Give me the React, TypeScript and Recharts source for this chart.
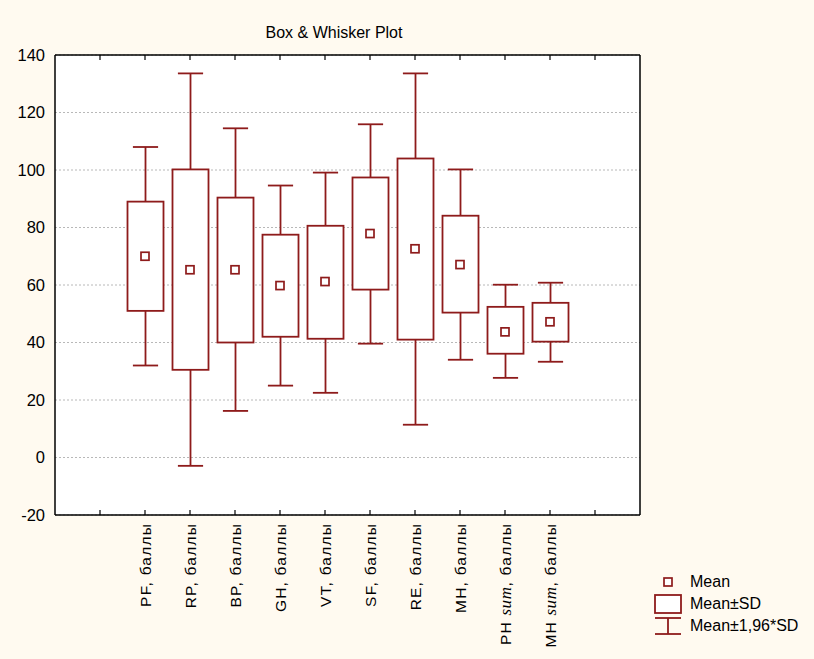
import React from "react";
import {
  ComposedChart,
  Bar,
  Scatter,
  XAxis,
  YAxis,
  CartesianGrid,
} from "recharts";

// categories sit on ticks 2..11; the reference keeps one empty slot at each end
const categories = ["PF", "RP", "BP", "GH", "VT", "SF", "RE", "MH", "PH sum", "MH sum"];
const whiskerLow = [32, -2.9, 16.2, 25, 22.5, 39.6, 11.4, 34, 27.7, 33.3];
const sdLow = [51, 30.5, 40, 42, 41.3, 58.4, 41, 50.4, 36.1, 40.3];
const means = [70, 65.3, 65.3, 59.8, 61.2, 77.9, 72.6, 67.1, 43.7, 47.2];
const sdHigh = [89, 100.2, 90.4, 77.5, 80.6, 97.4, 104, 84.1, 52.4, 53.8];
const whiskerHigh = [108, 133.6, 114.5, 94.6, 99.1, 115.9, 133.6, 100.2, 60.1, 60.8];
const yTicks = [-20, 0, 20, 40, 60, 80, 100, 120, 140];

const RED = "#8E1B1B";
const BG = "#FFFAF0";
const FONT = "'Liberation Sans', Arial, sans-serif";

const data = [
  { key: "pad0" },
  ...categories.map((name, i) => ({
    key: name,
    lo: whiskerLow[i],
    sdLo: sdLow[i],
    mean: means[i],
    sdHi: sdHigh[i],
    hi: whiskerHigh[i],
  })),
  { key: "pad1" },
];

function BoxShape(props: any) {
  const { x, y, width, height, payload } = props;
  if (!payload || payload.lo == null || !isFinite(y)) return <g />;
  const top = Math.min(y, y + height);
  const bottom = Math.max(y, y + height);
  const span = payload.hi - payload.lo;
  const py = (v: number) => bottom - ((v - payload.lo) / span) * (bottom - top);
  const cx = x + width / 2;
  const cap = width * 0.35;
  const boxTop = py(payload.sdHi);
  const boxBottom = py(payload.sdLo);
  return (
    <g stroke={RED} strokeWidth={1.8} fill="none">
      <line x1={cx} x2={cx} y1={top} y2={boxTop} />
      <line x1={cx} x2={cx} y1={boxBottom} y2={bottom} />
      <line x1={cx - cap} x2={cx + cap} y1={top} y2={top} />
      <line x1={cx - cap} x2={cx + cap} y1={bottom} y2={bottom} />
      <rect x={x} y={boxTop} width={width} height={boxBottom - boxTop} fill="#fff" />
    </g>
  );
}

function MeanShape(props: any) {
  const { cx, cy, payload } = props;
  if (!payload || payload.mean == null || !isFinite(cx) || !isFinite(cy)) return <g />;
  return (
    <rect x={cx - 4} y={cy - 4} width={8} height={8} fill="#fff" stroke={RED} strokeWidth={1.7} />
  );
}

function EmptyTick() {
  return <g />;
}

function XTick(props: any) {
  const { x, y, payload } = props;
  const v: string = payload.value;
  if (v.startsWith("pad")) return <g />;
  const isSum = v.endsWith(" sum");
  const base = isSum ? v.replace(" sum", "") : v;
  return (
    <g transform={`translate(${x},${y})`}>
      <text
        transform="rotate(-90)"
        textAnchor="end"
        dy="0.36em"
        fontSize={15.5}
        letterSpacing={1.2}
        fontFamily={FONT}
        fill="#000"
      >
        {isSum ? (
          <>
            {base + " "}
            <tspan
              fontFamily="'Liberation Serif', 'Times New Roman', serif"
              fontStyle="italic"
              fontSize={17}
              letterSpacing={0.6}
            >
              sum
            </tspan>
            {", баллы"}
          </>
        ) : (
          `${base}, баллы`
        )}
      </text>
    </g>
  );
}

function LegendBox() {
  const row = { display: "flex", alignItems: "center", height: 22 } as const;
  const label = { fontSize: 16, fontFamily: FONT, color: "#000", marginLeft: 8 } as const;
  return (
    <div style={{ position: "absolute", left: 654, top: 571, width: 164 }}>
      <div style={row}>
        <svg width={28} height={20}>
          <rect x={10} y={6} width={8} height={8} fill="#fff" stroke={RED} strokeWidth={1.7} />
        </svg>
        <span style={label}>Mean</span>
      </div>
      <div style={row}>
        <svg width={28} height={20}>
          <rect x={1} y={1} width={26} height={18} fill="#fff" stroke={RED} strokeWidth={1.8} />
        </svg>
        <span style={label}>Mean±SD</span>
      </div>
      <div style={row}>
        <svg width={28} height={20}>
          <g stroke={RED} strokeWidth={1.8}>
            <line x1={1} x2={27} y1={2} y2={2} />
            <line x1={14} x2={14} y1={2} y2={18} />
            <line x1={1} x2={27} y1={18} y2={18} />
          </g>
        </svg>
        <span style={label}>Mean±1,96*SD</span>
      </div>
    </div>
  );
}

const frameLine = { stroke: "#000", strokeWidth: 1.5 };
const innerTick = { stroke: "#000", strokeWidth: 1.2 };

export default function App() {
  return (
    <div
      style={{
        position: "absolute",
        left: 0,
        top: 0,
        width: 814,
        height: 659,
        background: BG,
        overflow: "hidden",
      }}
    >
      <div
        style={{
          position: "absolute",
          left: 0,
          width: 668,
          top: 24,
          textAlign: "center",
          fontFamily: FONT,
          fontSize: 16,
          color: "#000",
        }}
      >
        Box &amp; Whisker Plot
      </div>
      <ComposedChart
        width={814}
        height={659}
        data={data}
        margin={{ top: 55, right: 174, bottom: 0, left: 0 }}
      >
        <CartesianGrid vertical={false} fill="#fff" stroke="#b8b8b8" strokeDasharray="2 2" />
        <XAxis
          dataKey="key"
          type="category"
          interval={0}
          padding={{ left: 22.5, right: 22.5 }}
          height={144}
          axisLine={false}
          tickLine={false}
          tickSize={0}
          tickMargin={8}
          tick={<XTick />}
        />
        <XAxis
          xAxisId="topIn"
          dataKey="key"
          orientation="top"
          mirror
          interval={0}
          padding={{ left: 22.5, right: 22.5 }}
          tick={<EmptyTick />}
          tickSize={5}
          axisLine={frameLine}
          tickLine={innerTick}
        />
        <XAxis
          xAxisId="bottomIn"
          dataKey="key"
          orientation="bottom"
          mirror
          interval={0}
          padding={{ left: 22.5, right: 22.5 }}
          tick={<EmptyTick />}
          tickSize={5}
          axisLine={frameLine}
          tickLine={innerTick}
        />
        <YAxis
          domain={[-20, 140]}
          ticks={yTicks}
          width={55}
          axisLine={false}
          tickLine={false}
          tickSize={0}
          tickMargin={10}
          tick={{ fontSize: 16.5, fill: "#000", fontFamily: FONT }}
        />
        <YAxis
          yAxisId="leftIn"
          orientation="left"
          mirror
          domain={[-20, 140]}
          ticks={yTicks}
          tick={<EmptyTick />}
          tickSize={5}
          axisLine={frameLine}
          tickLine={innerTick}
        />
        <YAxis
          yAxisId="rightIn"
          orientation="right"
          mirror
          domain={[-20, 140]}
          ticks={yTicks}
          tick={<EmptyTick />}
          tickSize={5}
          axisLine={frameLine}
          tickLine={innerTick}
        />
        <Bar
          dataKey={(d: any) => (d.lo == null ? null : [d.lo, d.hi])}
          barSize={36}
          shape={<BoxShape />}
          isAnimationActive={false}
        />
        <Scatter dataKey="mean" shape={<MeanShape />} isAnimationActive={false} />
      </ComposedChart>
      <LegendBox />
    </div>
  );
}
